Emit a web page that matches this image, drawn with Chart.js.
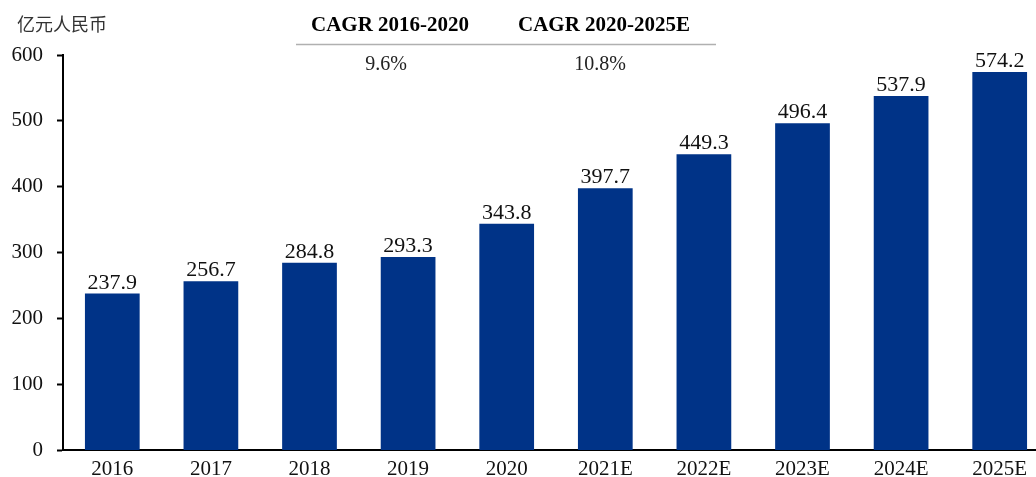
<!DOCTYPE html>
<html>
<head>
<meta charset="utf-8">
<script src="https://cdn.jsdelivr.net/npm/chart.js@4"></script>
<style>
  html, body { margin: 0; padding: 0; background: #fff; overflow: hidden; }
  #wrap { width: 1049px; height: 477px; position: relative; }
</style>
</head>
<body>
<div id="wrap"><canvas id="myChart"></canvas></div>
<script>
var years = ['2016', '2017', '2018', '2019', '2020', '2021E', '2022E', '2023E', '2024E', '2025E'];
var revenue = [237.9, 256.7, 284.8, 293.3, 343.8, 397.7, 449.3, 496.4, 537.9, 574.2];
var cagrHeads = ['CAGR 2016-2020', 'CAGR 2020-2025E'];
var cagrValues = ['9.6%', '10.8%'];
var unitLabel = '亿元人民币';

var serif = '"Liberation Serif", "Times New Roman", serif';

// value labels above bars + cagr table + unit
var extras = {
    id: 'extras',
    afterDatasetsDraw: function (chart) {
        var c = chart.ctx;
        var meta = chart.getDatasetMeta(0);
        c.save();
        c.fillStyle = '#111';
        c.font = '22px ' + serif;
        c.textAlign = 'center';
        c.textBaseline = 'alphabetic';
        meta.data.forEach(function (bar, i) {
            c.fillText(revenue[i].toFixed(1), bar.x, bar.y - 5);
        });

        c.font = '18px "Noto Sans CJK SC", sans-serif';
        c.textAlign = 'left';
        c.textBaseline = 'middle';
        c.fillStyle = '#333';
        c.fillText(unitLabel, 17, 24);

        c.fillStyle = '#000';
        c.textAlign = 'center';
        var cols = [390, 604];
        for (var k = 0; k < cagrHeads.length; k++) {
            c.font = 'bold 21px ' + serif;
            c.fillText(cagrHeads[k], cols[k], 26);
            c.font = '20px ' + serif;
            c.fillStyle = '#222';
            c.fillText(cagrValues[k], cols[k] - 4, 65);
            c.fillStyle = '#000';
        }
        c.strokeStyle = '#b0b0b0';
        c.lineWidth = 1.5;
        c.beginPath();
        c.moveTo(296, 44.5);
        c.lineTo(716, 44.5);
        c.stroke();
        c.restore();
    }
};

var ctx = document.getElementById('myChart').getContext('2d');
var myChart = new Chart(ctx, {
    type: 'bar',
    data: {
        labels: years,
        datasets: [{
            data: revenue,
            backgroundColor: 'rgb(0, 51, 135)',
            borderWidth: 0,
            barPercentage: 0.555,
            categoryPercentage: 1
        }]
    },
    options: {
        responsive: true,
        maintainAspectRatio: false,
        animation: false,
        layout: { padding: { top: 55, right: 0, left: 0, bottom: 0 } },
        plugins: {
            legend: { display: false },
            tooltip: { enabled: false }
        },
        scales: {
            x: {
                grid: { display: false, drawTicks: false },
                border: { color: '#000', width: 2 },
                ticks: { color: '#111', font: { family: serif, size: 21 }, padding: 6 },
                afterFit: function (s) { s.height = 26; }
            },
            y: {
                min: 0,
                max: 600,
                grid: { display: true, drawOnChartArea: false, drawTicks: true, tickLength: 6, tickColor: '#000', tickWidth: 2 },
                border: { color: '#000', width: 2 },
                ticks: { stepSize: 100, color: '#111', font: { family: serif, size: 21 }, padding: 14 },
                afterFit: function (s) { s.width = 63; }
            }
        }
    },
    plugins: [extras]
});
</script>
</body>
</html>
